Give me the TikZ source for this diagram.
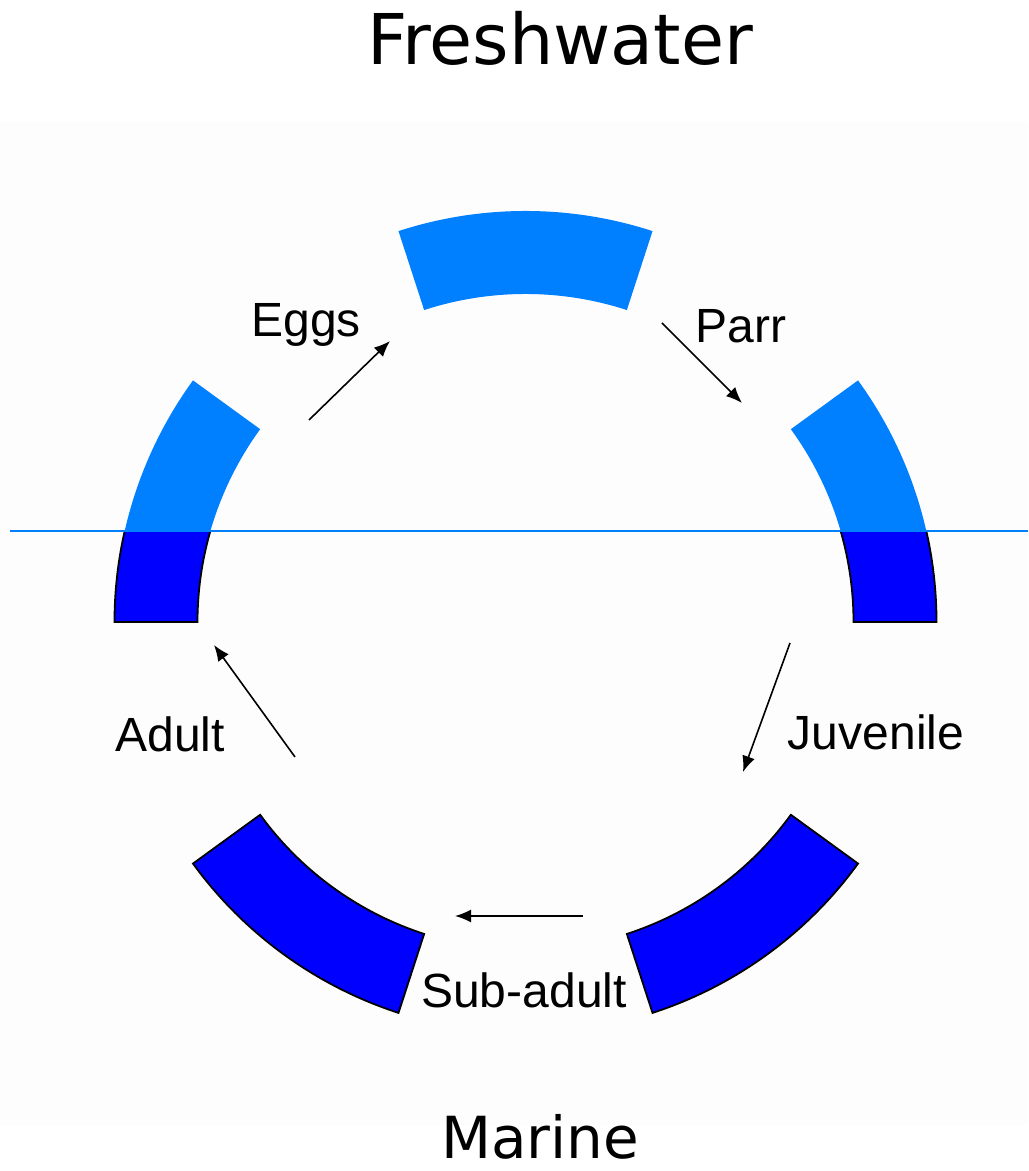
\documentclass[tikz,border=0pt]{standalone}
\usepackage{fontspec}
\setmainfont{Liberation Sans}
\newfontfamily\realmfont{DejaVu Sans}
\usetikzlibrary{arrows.meta}
\definecolor{freshblue}{RGB}{0,128,255}
\definecolor{marineblue}{RGB}{0,0,255}
\begin{document}
\begin{tikzpicture}[x=0.5pt,y=0.5pt,
	stage/.style={font=\fontsize{24}{28}\selectfont,anchor=base},
	realm/.style={anchor=base},
	cyc/.style={-{Latex[length=8pt,width=6.5pt]},line width=0.8pt}]
	\def\ro{411}
	\def\ri{328}
	\useasboundingbox (0,0) rectangle (1028,1171);
	\fill[black!0.6] (0,46) rectangle (1028,1049);
	\coordinate (c) at (525.5,549);
	% ring, upper part
	\foreach \a in {0,72,144}
	\fill[freshblue,shift={(c)}] (\a:\ro) arc (\a:\a+36:\ro)
	-- (\a+36:\ri) arc (\a+36:\a:\ri) -- cycle;
	% ring, below the water line
	\begin{scope}
		\clip (0,0) rectangle (1028,640);
		\foreach \a in {0,144,216,288}
		\filldraw[fill=marineblue,draw=black,line width=0.9pt,shift={(c)}]
		(\a:\ro) arc (\a:\a+36:\ro)
		-- (\a+36:\ri) arc (\a+36:\a:\ri) -- cycle;
	\end{scope}
	\coordinate (w0) at (10,640);
	\coordinate (w1) at (1028,640);
	\draw[freshblue,line width=1pt] (w0) -- (w1);
	% stages
	\node[stage] (eggs) at (306,834) {Eggs};
	\node[stage] (parr) at (741,828) {Parr};
	\node[stage] (juv) at (876,421) {Juvenile};
	\node[stage] (sub) at (524,163) {Sub-adult};
	\node[stage] (adult) at (170,419) {Adult};
	\node[realm,font=\realmfont\fontsize{35}{40}\selectfont] (fresh) at (560,1106) {Freshwater};
	\node[realm,font=\realmfont\fontsize{29}{34}\selectfont] (marine) at (540,12) {Marine};
	% arrows
	\coordinate (e0) at (309,751); \coordinate (e1) at (390,830);
	\coordinate (p0) at (662,848); \coordinate (p1) at (742,768);
	\coordinate (j0) at (790,528); \coordinate (j1) at (743,399);
	\coordinate (s0) at (583,255); \coordinate (s1) at (455,255);
	\coordinate (a0) at (295,414); \coordinate (a1) at (214,526);
	\draw[cyc] (e0) -- (e1);
	\draw[cyc] (p0) -- (p1);
	\draw[cyc] (j0) -- (j1);
	\draw[cyc] (s0) -- (s1);
	\draw[cyc] (a0) -- (a1);
\end{tikzpicture}
\end{document}
